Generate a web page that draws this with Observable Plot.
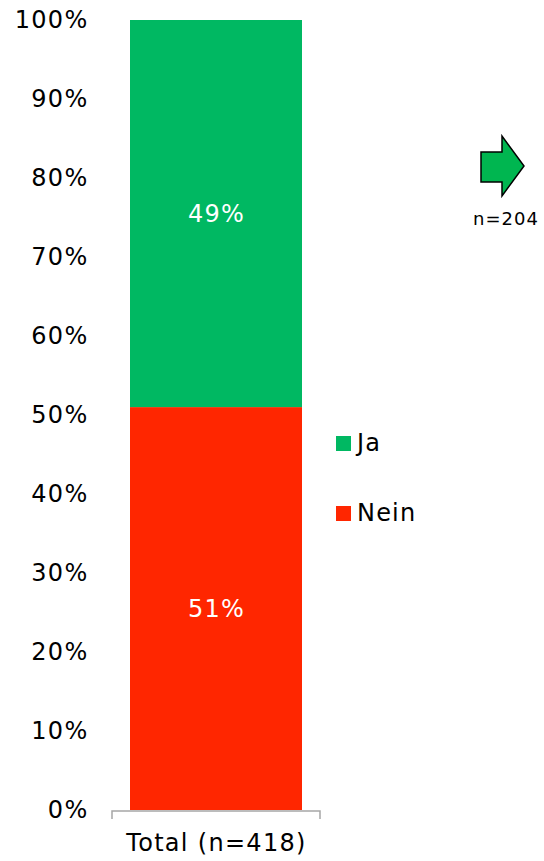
<!DOCTYPE html>
<html><head><meta charset="utf-8">
<script src="https://cdn.jsdelivr.net/npm/d3@7"></script>
<script src="https://cdn.jsdelivr.net/npm/@observablehq/plot@0.6"></script>
<style>
body{margin:0;background:#fff;font-family:"DejaVu Sans",Verdana,sans-serif;}
#wrap{position:relative;width:544px;height:861px;overflow:hidden;}
#wrap svg.plot{position:absolute;left:0;top:0;}
.leg{position:absolute;display:flex;align-items:center;font-size:24px;color:#000;line-height:1;letter-spacing:1.2px;}
.sw{width:15px;height:15px;margin-right:6px;display:inline-block;}
#arrow{position:absolute;left:478px;top:132px;}
#nlabel{position:absolute;left:466px;top:208px;width:80px;text-align:center;font-size:18px;letter-spacing:1px;color:#000;}
</style></head><body><div id="wrap"></div>
<script>
const categories = ["Total (n=418)"];
const seriesNames = ["Nein", "Ja"];
const neinValues = [51];
const jaValues = [49];
const yTicks = [0, 10, 20, 30, 40, 50, 60, 70, 80, 90, 100];
const seriesColors = ["#FF2600", "#00B862"];
const legendOrder = ["Ja", "Nein"];
const arrowLabel = "n=204";

const rows = [];
categories.forEach((c, i) => {
  rows.push({category: c, series: "Nein", value: neinValues[i]});
  rows.push({category: c, series: "Ja", value: jaValues[i]});
});

const bracket = (index, scales, values, dims) => {
  const x = scales.x, y = scales.y;
  const x0 = x(categories[0]);
  const bw = x.bandwidth ? x.bandwidth() : (dims.width - dims.marginLeft - dims.marginRight);
  const y0 = y(0) + 1;
  const g = d3.create("svg:g");
  g.append("path")
    .attr("d", `M${x0},${y0 + 8}V${y0}H${x0 + bw}V${y0 + 8}`)
    .attr("fill", "none").attr("stroke", "#a6a6a6").attr("stroke-width", 1.5);
  return g.node();
};

const chart = Plot.plot({
  width: 544, height: 861,
  marginLeft: 112, marginRight: 224, marginTop: 20, marginBottom: 51,
  style: {fontFamily: '"DejaVu Sans", Verdana, sans-serif', fontSize: "24px", letterSpacing: "1.3px", color: "#000", background: "transparent"},
  x: {domain: categories, padding: 0, label: null, tickSize: 0, tickPadding: 23},
  y: {domain: [0, 100], ticks: yTicks, tickFormat: d => d + "%", tickSize: 0, tickPadding: 24, label: null},
  color: {domain: seriesNames, range: seriesColors},
  marks: [
    Plot.barY(rows, Plot.stackY({order: seriesNames, x: "category", y: "value", z: "series", fill: "series", insetLeft: 18, insetRight: 18})),
    Plot.text(rows, Plot.stackY({order: seriesNames, x: "category", y: "value", z: "series", text: d => d.value + "%", fill: "white", fontSize: 24})),
    bracket
  ]
});
chart.classList.add("plot");
const wrap = document.getElementById("wrap");
wrap.appendChild(chart);

const legTops = {"Ja": 431, "Nein": 501};
legendOrder.forEach(s => {
  const d = document.createElement("div");
  d.className = "leg";
  d.style.left = "336px";
  d.style.top = legTops[s] + "px";
  const sw = document.createElement("span");
  sw.className = "sw";
  sw.style.background = seriesColors[seriesNames.indexOf(s)];
  d.appendChild(sw);
  d.appendChild(document.createTextNode(s));
  wrap.appendChild(d);
});

const ns = "http://www.w3.org/2000/svg";
const asvg = document.createElementNS(ns, "svg");
asvg.setAttribute("id", "arrow");
asvg.setAttribute("width", "50");
asvg.setAttribute("height", "68");
const poly = document.createElementNS(ns, "polygon");
poly.setAttribute("points", "3,20 24,20 24,4 46,34 24,64 24,50 3,50");
poly.setAttribute("fill", "#00B650");
poly.setAttribute("stroke", "#000");
poly.setAttribute("stroke-width", "1.5");
asvg.appendChild(poly);
wrap.appendChild(asvg);
const nl = document.createElement("div");
nl.id = "nlabel";
nl.textContent = arrowLabel;
wrap.appendChild(nl);
</script></body></html>
